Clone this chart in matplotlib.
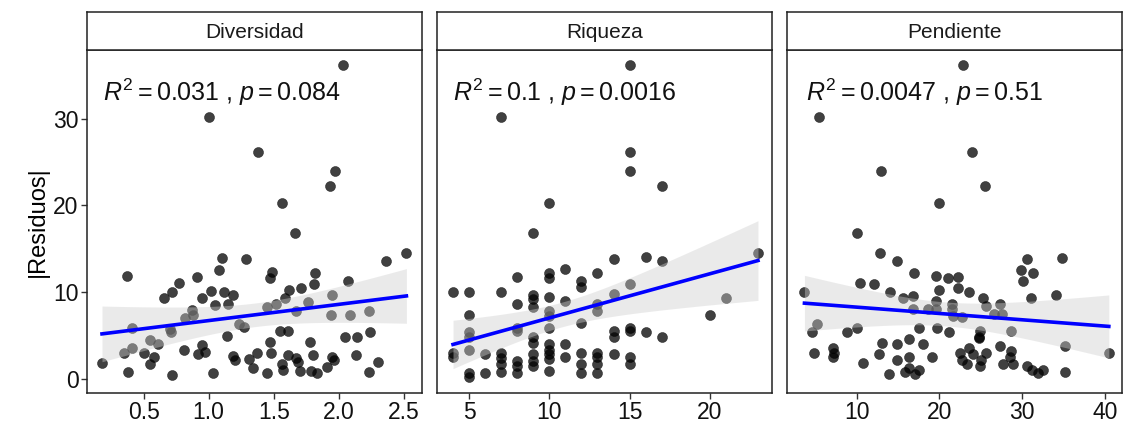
import numpy as np
import matplotlib
matplotlib.use('Agg')
import matplotlib.pyplot as plt

plt.rcParams['font.family'] = ['Liberation Sans', 'DejaVu Sans']
plt.rcParams['mathtext.fontset'] = 'custom'
plt.rcParams['mathtext.rm'] = 'Liberation Sans'
plt.rcParams['mathtext.it'] = 'Liberation Sans:italic'

# Diversidad
div_x = [2.03, 1.00, 1.38, 1.97, 1.93, 1.56, 1.66, 2.52, 2.36, 1.10,
         1.29, 0.375, 1.08, 1.49, 1.47, 1.82, 0.77, 0.91, 2.07, 1.81,
         0.66, 0.72, 1.02, 0.95, 1.12, 1.19, 1.05, 1.15, 1.62, 1.71,
         1.59, 1.52, 1.45, 1.76, 1.95, 0.87, 0.88, 0.82, 1.67, 1.94,
         2.09, 2.23, 0.41, 0.70, 0.71, 1.23, 1.27, 1.14, 1.55, 1.61,
         0.55, 0.61, 0.35, 0.41, 0.50, 0.58, 0.55, 0.18, 0.38, 0.72,
         1.03, 0.81, 0.95, 0.92, 0.97, 1.19, 1.20, 1.31, 1.37, 1.34,
         1.45, 1.47, 1.48, 1.56, 1.57, 1.61, 1.67, 1.69, 1.70, 1.78,
         1.80, 1.79, 1.83, 1.91, 1.95, 2.05, 2.14, 2.24, 2.13, 2.30,
         2.23, 1.96]
div_y = [36.2, 30.2, 26.2, 24.0, 22.2, 20.3, 16.8, 14.5, 13.6, 14.0,
         13.8, 11.9, 12.6, 12.3, 11.6, 12.2, 11.1, 11.8, 11.3, 10.9,
         9.4, 10.0, 10.1, 9.4, 10.0, 9.7, 8.5, 8.6, 10.3, 10.5,
         9.4, 8.6, 8.3, 8.9, 9.7, 8.0, 7.4, 7.0, 7.9, 7.4,
         7.4, 7.9, 5.9, 5.8, 5.4, 6.4, 6.0, 5.0, 5.5, 5.5,
         4.5, 4.0, 3.0, 3.6, 3.0, 2.5, 1.7, 1.9, 0.85, 0.5,
         0.7, 3.3, 3.9, 2.9, 3.1, 2.7, 2.2, 2.3, 3.0, 1.3,
         0.7, 4.3, 3.0, 1.7, 1.0, 2.8, 2.4, 2.0, 0.9, 4.3,
         2.8, 0.9, 0.7, 1.4, 2.6, 4.9, 4.9, 5.4, 2.8, 2.0,
         0.85, 2.2]

# Riqueza
riq_x = [15, 7, 15, 15, 17, 10, 9, 23, 14, 16,
         17, 11, 13, 8, 10, 10, 12, 12, 4, 5,
         7, 9, 9, 10, 8, 9, 11, 10, 13, 13,
         14, 15, 21, 20, 5, 5, 5, 5, 4, 4,
         6, 8, 8, 9, 9, 10, 10, 10, 10, 10,
         10, 10, 11, 11, 12, 12, 12, 12, 13, 13,
         13, 13, 14, 14, 14, 15, 15, 15, 15, 16,
         17, 7, 7, 7, 7, 8, 8, 8, 9, 9,
         9, 5, 5, 6]
riq_y = [36.2, 30.2, 26.2, 24.0, 22.2, 20.3, 16.8, 14.5, 13.8, 14.1,
         13.6, 12.7, 12.2, 11.8, 12.2, 11.7, 11.3, 10.6, 10.0, 10.0,
         10.0, 9.7, 9.2, 9.5, 8.6, 8.3, 9.0, 7.9, 8.7, 7.9,
         9.8, 10.9, 9.3, 7.4, 7.4, 5.4, 4.8, 3.4, 3.0, 2.5,
         2.9, 5.9, 5.6, 4.9, 4.2, 7.3, 5.9, 4.0, 3.4, 2.9,
         2.3, 0.9, 4.0, 2.6, 6.5, 3.0, 1.7, 0.7, 3.0, 2.6,
         1.7, 0.7, 5.5, 4.9, 2.9, 5.9, 5.5, 2.6, 1.7, 5.4,
         4.9, 3.0, 2.4, 1.7, 0.85, 2.1, 1.5, 0.7, 2.9, 2.1,
         1.5, 0.7, 0.3, 0.7]

# Pendiente
pen_x = [22.9, 5.4, 24.0, 12.9, 25.5, 20.0, 10.0, 12.8, 14.9, 17.0,
         19.6, 21.1, 22.3, 22.3, 20.0, 23.6, 10.4, 12.1, 14.0, 15.6,
         16.8, 3.7, 30.6, 29.9, 31.3, 30.1, 34.8, 34.1, 31.1, 25.3,
         27.4, 25.6, 19.6, 21.5, 21.6, 16.8, 18.6, 19.6, 21.7, 22.8,
         26.6, 27.6, 5.2, 4.6, 8.8, 10.0, 17.6, 19.7, 21.2, 24.9,
         24.8, 24.8, 28.7, 13.1, 14.9, 16.3, 18.0, 4.8, 7.2, 7.3,
         7.2, 10.8, 12.7, 14.9, 16.4, 13.9, 15.9, 16.4, 17.5, 17.1,
         19.1, 22.5, 22.7, 23.6, 23.3, 24.1, 25.0, 25.7, 24.9, 27.3,
         28.7, 28.5, 27.7, 28.9, 30.6, 31.2, 31.9, 32.5, 35.2, 35.2,
         40.5]
pen_y = [36.2, 30.2, 26.2, 24.0, 22.2, 20.3, 16.8, 14.5, 13.6, 12.2,
         11.9, 11.6, 11.8, 10.5, 10.3, 10.0, 11.1, 10.9, 10.0, 9.4,
         9.6, 10.0, 13.8, 12.6, 12.2, 11.3, 14.0, 9.7, 9.4, 9.3,
         8.7, 8.4, 9.0, 8.7, 8.1, 8.1, 8.1, 8.1, 7.3, 7.1,
         7.5, 7.5, 6.4, 5.4, 5.4, 5.9, 5.9, 5.9, 5.4, 5.5,
         4.9, 4.7, 5.6, 4.2, 4.0, 4.6, 4.0, 3.0, 3.6, 3.0,
         2.5, 1.9, 2.9, 2.2, 2.5, 0.6, 0.8, 1.3, 1.1, 0.6,
         2.5, 3.0, 2.2, 3.6, 1.8, 2.9, 2.2, 3.0, 1.5, 3.8,
         3.2, 2.6, 1.7, 1.8, 1.5, 1.0, 0.7, 1.0, 3.8, 0.8,
         3.0]

panels = ['Diversidad', 'Riqueza', 'Pendiente']
xs = [div_x, riq_x, pen_x]
ys = [div_y, riq_y, pen_y]
stats_txt = [r'$R^2 = 0.031$ , $p = 0.084$',
             r'$R^2 = 0.1$ , $p = 0.0016$',
             r'$R^2 = 0.0047$ , $p = 0.51$']
xticks = [[0.5, 1.0, 1.5, 2.0, 2.5], [5, 10, 15, 20], [10, 20, 30, 40]]
xticklabels = [['0.5', '1.0', '1.5', '2.0', '2.5'], ['5', '10', '15', '20'],
               ['10', '20', '30', '40']]
xlims = [(0.065, 2.64), (3.03, 23.9), (1.6, 42.1)]
lefts = [0.0773, 0.3885, 0.699]
txt_x = [0.047, 0.046, 0.057]

fig = plt.figure(figsize=(11.26, 4.24), dpi=100)
W, B, H, SH = 0.2975, 0.073, 0.809, 0.0896

for i in range(3):
    ax = fig.add_axes([lefts[i], B, W, H])
    x = np.array(xs[i], dtype=float)
    y = np.array(ys[i], dtype=float)
    ax.scatter(x, y, s=52, color='black', alpha=0.75, linewidths=0.4,
               edgecolors='#111111', zorder=2)

    # lm fit with 95% band (like geom_smooth(method='lm'))
    b, a = np.polyfit(x, y, 1)
    xx = np.linspace(x.min(), x.max(), 100)
    yy = a + b * xx
    n = len(x)
    resid = y - (a + b * x)
    s = np.sqrt(np.sum(resid ** 2) / (n - 2))
    se = s * np.sqrt(1 / n + (xx - x.mean()) ** 2 / np.sum((x - x.mean()) ** 2))
    ax.fill_between(xx, yy - 1.99 * se, yy + 1.99 * se, color='#cfcfcf',
                    alpha=0.42, linewidth=0, zorder=3)
    ax.plot(xx, yy, color='#0000ff', lw=2.6, zorder=4)

    ax.text(txt_x[i], 0.877, stats_txt[i], transform=ax.transAxes,
            fontsize=18, va='center', ha='left', color='#111111')

    ax.set_xlim(*xlims[i])
    ax.set_ylim(-1.6, 37.9)
    ax.set_xticks(xticks[i])
    ax.set_xticklabels(xticklabels[i])
    ax.tick_params(axis='both', labelsize=16.5, length=4, width=1,
                   color='#333333', pad=2, labelcolor='#111111')
    if i == 0:
        ax.set_yticks([0, 10, 20, 30])
        ax.set_ylabel('|Residuos|', fontsize=17, labelpad=3)
    else:
        ax.set_yticks([])
    for sp in ax.spines.values():
        sp.set_linewidth(1.1)
        sp.set_color('#222222')

    # strip
    sax = fig.add_axes([lefts[i], B + H, W, SH])
    sax.set_xticks([])
    sax.set_yticks([])
    for sp in sax.spines.values():
        sp.set_linewidth(1.1)
        sp.set_color('#222222')
    sax.text(0.5, 0.47, panels[i], ha='center', va='center', fontsize=15,
             transform=sax.transAxes, color='#1a1a1a')

fig.savefig('out.png', dpi=100)
